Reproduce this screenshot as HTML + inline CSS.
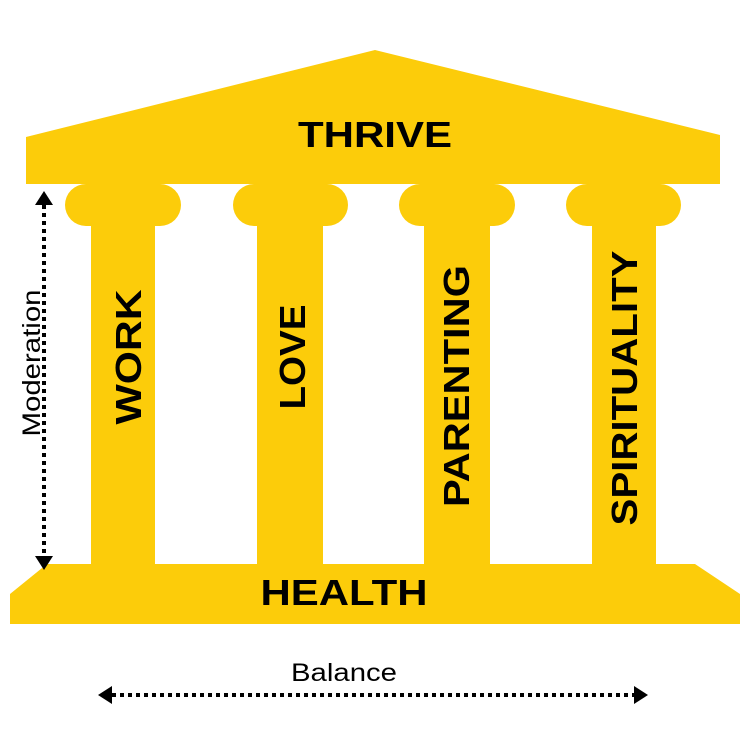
<!DOCTYPE html>
<html><head><style>html,body{margin:0;padding:0;background:#fff}</style></head>
<body>
<svg width="750" height="750" viewBox="0 0 750 750" xmlns="http://www.w3.org/2000/svg">
<g fill="#FCCC0A">
<polygon points="26,137 375,50 720,135 720,184 26,184"/>
<rect x="65" y="184" width="116" height="42" rx="21"/>
<rect x="91" y="200" width="64" height="370"/>
<rect x="233" y="184" width="115" height="42" rx="21"/>
<rect x="257" y="200" width="66" height="370"/>
<rect x="399" y="184" width="116" height="42" rx="21"/>
<rect x="424" y="200" width="66" height="370"/>
<rect x="566" y="184" width="115" height="42" rx="21"/>
<rect x="592" y="200" width="64" height="370"/>
<polygon points="10,594 47,564 695,564 740,594 740,624 10,624"/>
</g>
<g font-family="Liberation Sans, sans-serif" font-weight="bold" font-size="36" fill="#000" text-anchor="middle" lengthAdjust="spacingAndGlyphs">
<text x="375" y="147" textLength="154" lengthAdjust="spacingAndGlyphs">THRIVE</text>
<text x="344" y="605" textLength="167" lengthAdjust="spacingAndGlyphs">HEALTH</text>
<text transform="translate(141,357) rotate(-90)" textLength="135" lengthAdjust="spacingAndGlyphs">WORK</text>
<text transform="translate(305,357) rotate(-90)" textLength="105" lengthAdjust="spacingAndGlyphs">LOVE</text>
<text transform="translate(469,386) rotate(-90)" textLength="242" lengthAdjust="spacingAndGlyphs">PARENTING</text>
<text transform="translate(637,388) rotate(-90)" textLength="275" lengthAdjust="spacingAndGlyphs">SPIRITUALITY</text>
</g>
<g font-family="Liberation Sans, sans-serif" font-size="25" fill="#000" text-anchor="middle">
<text x="344" y="681" textLength="106" lengthAdjust="spacingAndGlyphs">Balance</text>
<text transform="translate(40,363) rotate(-90)" textLength="147" lengthAdjust="spacingAndGlyphs">Moderation</text>
</g>
<g stroke="#000" stroke-width="4" stroke-dasharray="4,4">
<line x1="44" y1="205" x2="44" y2="556"/>
<line x1="112" y1="695" x2="634" y2="695"/>
</g>
<g fill="#000">
<polygon points="44,191 35,205 53,205"/>
<polygon points="44,570 35,556 53,556"/>
<polygon points="98,695 112,686 112,704"/>
<polygon points="648,695 634,686 634,704"/>
</g>
</svg>
</body></html>
